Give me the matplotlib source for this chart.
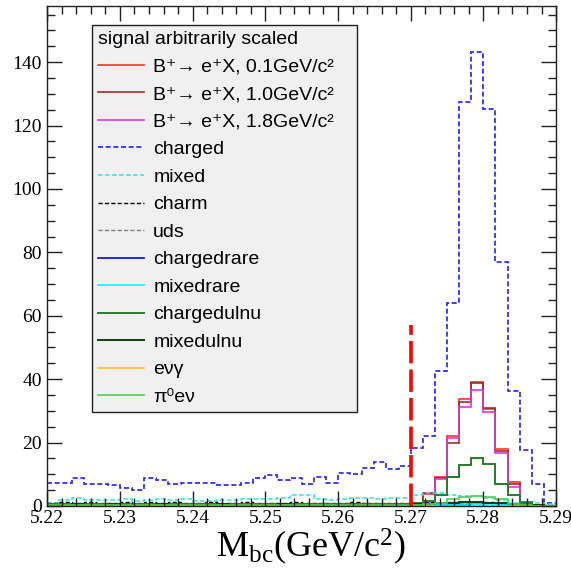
import numpy as np
import matplotlib
matplotlib.use('Agg')
import matplotlib.pyplot as plt
from matplotlib.ticker import MultipleLocator, FormatStrFormatter

plt.rcParams['mathtext.fontset'] = 'custom'
plt.rcParams['mathtext.rm'] = 'Liberation Serif'
plt.rcParams['mathtext.it'] = 'Liberation Serif:italic'

# 42 bins of Mbc between 5.22 and 5.29 GeV/c^2
edges = np.linspace(5.22, 5.29, 43)

charged = [7.1, 7.1, 8.8, 6.9, 6.9, 6.6, 5.8, 4.9, 8.8, 8.3, 6.9, 7.4, 7.1, 7.4,
           6.6, 6.6, 7.4, 8.8, 9.7, 8.3, 8.8, 6.9, 9.1, 7.4, 10.5, 10.0, 11.9, 13.8,
           11.7, 12.6, 18.3, 22.1, 42.6, 64.0, 127.5, 143.3, 125.1, 77.0, 36.3, 17.6,
           6.8, 1.1]
mixed = [1.1, 1.8, 2.5, 1.8, 1.8, 1.8, 2.2, 1.6, 1.8, 2.2, 1.8, 2.2, 1.6, 1.6,
         1.8, 1.8, 2.2, 2.2, 2.2, 2.6, 3.5, 3.5, 2.2, 1.8, 2.2, 2.6, 2.6, 2.2,
         2.6, 2.6, 3.5, 4.1, 4.1, 3.5, 3.2, 3.0, 2.5, 1.8, 1.1, 1.1, 0.8, 0.6]
charm = [1.0, 1.2, 0.8, 1.3, 0.9, 1.1, 1.4, 0.9, 1.2, 1.0, 1.3, 0.8, 1.1, 1.2,
         0.9, 1.0, 1.3, 1.1, 0.8, 1.0, 1.2, 0.9, 1.1, 1.0, 0.8, 1.2, 1.0, 0.9,
         1.1, 0.8, 0.9, 1.2, 1.0, 1.3, 0.8, 1.0, 1.2, 0.9, 0.6, 0.4, 0.3, 0.2]
uds = [0.6, 0.5, 0.7, 0.4, 0.6, 0.5, 0.7, 0.6, 0.4, 0.5, 0.6, 0.7, 0.5, 0.4,
       0.6, 0.5, 0.6, 0.4, 0.5, 0.7, 0.5, 0.6, 0.4, 0.5, 0.6, 0.5, 0.4, 0.6,
       0.5, 0.4, 0.5, 0.6, 0.4, 0.5, 0.4, 0.3, 0.4, 0.3, 0.2, 0.2, 0.1, 0.1]
chargedrare = [0.3, 0.3, 0.4, 0.3, 0.3, 0.3, 0.6, 0.3, 0.2, 0.3, 0.3, 0.3, 0.3, 0.3,
               0.3, 0.3, 0.3, 0.6, 0.6, 0.3, 0.3, 0.3, 0.3, 0.3, 0.3, 0.3, 0.3, 0.3,
               0.3, 0.3, 0.3, 0.3, 0.3, 0.3, 0.3, 0.8, 0.8, 0.3, 0.2, 0.1, 0.1, 0.1]
mixedrare = [0.5, 0.4, 0.4, 0.3, 0.6, 0.5, 0.4, 0.5, 0.4, 0.4, 0.3, 0.4, 0.4, 0.5,
             0.4, 0.4, 0.3, 0.4, 0.4, 0.4, 0.4, 0.3, 0.4, 0.4, 0.4, 0.3, 0.4, 0.4,
             0.4, 0.4, 0.4, 0.4, 0.5, 0.5, 0.5, 0.5, 0.5, 0.4, 0.3, 0.2, 0.1, 0.1]
chargedulnu = [0.6, 0.6, 0.6, 0.6, 0.6, 0.6, 0.6, 0.6, 0.6, 0.6, 0.6, 0.6, 0.6, 0.6,
               0.6, 0.6, 0.6, 0.6, 0.6, 0.6, 0.6, 0.6, 0.6, 0.6, 0.6, 0.6, 0.6, 0.6,
               0.6, 0.6, 0.8, 1.6, 3.5, 9.1, 12.8, 15.2, 13.1, 6.9, 3.6, 1.1, 0.3, 0.1]
mixedulnu = [0.4, 0.4, 0.5, 0.4, 0.4, 0.5, 0.4, 0.4, 0.4, 0.5, 0.4, 0.4, 0.4, 0.4,
             0.5, 0.4, 0.4, 0.4, 0.4, 0.5, 0.4, 0.4, 0.4, 0.4, 0.4, 0.4, 0.4, 0.4,
             0.4, 0.4, 0.5, 0.6, 0.8, 1.0, 1.2, 1.3, 1.1, 0.8, 0.5, 0.3, 0.2, 0.1]
enugamma = [0.1] * 42
pi0enu = [0.2, 0.2, 0.2, 0.2, 0.2, 0.2, 0.2, 0.2, 0.2, 0.2, 0.2, 0.2, 0.2, 0.2,
          0.2, 0.2, 0.2, 0.2, 0.2, 0.2, 0.2, 0.2, 0.2, 0.2, 0.2, 0.2, 0.2, 0.2,
          0.2, 0.2, 0.3, 0.5, 1.0, 2.2, 2.7, 3.0, 2.7, 2.2, 0.6, 0.2, 0.1, 0.1]
sig_01 = [0.0] * 29 + [0.2, 0.5, 3.8, 9.0, 22.1, 33.7, 39.2, 30.5, 17.9, 7.5, 1.4, 0.1, 0.0]
sig_10 = [0.0] * 29 + [0.2, 0.5, 4.0, 8.7, 20.0, 32.7, 38.9, 30.8, 17.4, 7.0, 1.2, 0.1, 0.0]
sig_18 = [0.0] * 29 + [0.3, 1.1, 1.1, 8.5, 21.6, 31.1, 36.6, 29.7, 16.6, 6.1, 1.3, 0.1, 0.0]

cut_value = 5.27
cut_height = 57

fig = plt.figure(figsize=(5.71, 5.70), dpi=100)
ax = fig.add_axes([0.0828, 0.1123, 0.891, 0.8766])

short = (0, (3, 1.6))
series = [
    (sig_01, '#ff3030', '-', 1.2, 'B⁺→ e⁺X, 0.1GeV/c²'),
    (sig_10, '#9b2c2c', '-', 1.2, 'B⁺→ e⁺X, 1.0GeV/c²'),
    (sig_18, '#d23ed2', '-', 1.2, 'B⁺→ e⁺X, 1.8GeV/c²'),
    (charged, '#2020ff', short, 1.2, 'charged'),
    (mixed, '#30e0e0', short, 1.1, 'mixed'),
    (charm, '#000000', short, 1.0, 'charm'),
    (uds, '#808080', short, 1.0, 'uds'),
    (chargedrare, '#0000ff', '-', 1.2, 'chargedrare'),
    (mixedrare, '#00ffff', '-', 1.2, 'mixedrare'),
    (chargedulnu, '#2a7a2a', '-', 1.4, 'chargedulnu'),
    (mixedulnu, '#0f3f0f', '-', 1.4, 'mixedulnu'),
    (enugamma, '#ffbb33', '-', 1.2, 'eνγ'),
    (pi0enu, '#55cc55', '-', 1.2, 'π⁰eν'),
]

handles = []
for vals, col, ls, lw, lab in series:
    h = ax.stairs(vals, edges, baseline=None, color=col, linestyle=ls,
                  linewidth=lw, label=lab)
    handles.append(h)

ax.plot([cut_value, cut_value], [0, cut_height], color='#ff0000', lw=2.6,
        dashes=(6.2, 1.7), solid_capstyle='butt')

ax.set_xlim(5.22, 5.29)
ax.set_ylim(0, 157.6)
ax.xaxis.set_major_locator(MultipleLocator(0.01))
ax.xaxis.set_minor_locator(MultipleLocator(0.002))
ax.yaxis.set_major_locator(MultipleLocator(20))
ax.yaxis.set_minor_locator(MultipleLocator(5))
ax.xaxis.set_major_formatter(FormatStrFormatter('%.2f'))
ax.yaxis.set_major_formatter(FormatStrFormatter('%d'))
ax.tick_params(which='both', direction='in', top=True, right=True, color='#222222')
ax.tick_params(which='major', length=11, width=1.0)
ax.tick_params(which='minor', length=5.5, width=1.0)
ax.tick_params(axis='y', pad=4)
ax.tick_params(axis='x', pad=3)
for lab in ax.get_xticklabels() + ax.get_yticklabels():
    lab.set_fontfamily('Liberation Serif')
    lab.set_fontsize(14)
for sp in ax.spines.values():
    sp.set_linewidth(1.0)
    sp.set_color('#222222')

ax.set_xlabel(r'$\mathrm{M_{bc}(GeV/c^{2})}$', fontsize=26, labelpad=0)
ax.xaxis.set_label_coords(0.517, -0.042)

leg = ax.legend(handles=handles, loc='upper left',
                bbox_to_anchor=(0.0879, 0.962, 0.521, 0.0), mode='expand',
                title='signal arbitrarily scaled', alignment='left',
                prop={'family': ['Liberation Sans', 'DejaVu Sans'], 'size': 14},
                title_fontproperties={'family': 'Liberation Sans', 'size': 14},
                frameon=True, fancybox=False, facecolor='#f0f0f0', edgecolor='#222222',
                framealpha=1.0, handlelength=2.4, handletextpad=0.45,
                labelspacing=0.51, borderpad=0.3, borderaxespad=0.0)
leg.get_frame().set_linewidth(1.0)

fig.savefig('out.png', dpi=100)
